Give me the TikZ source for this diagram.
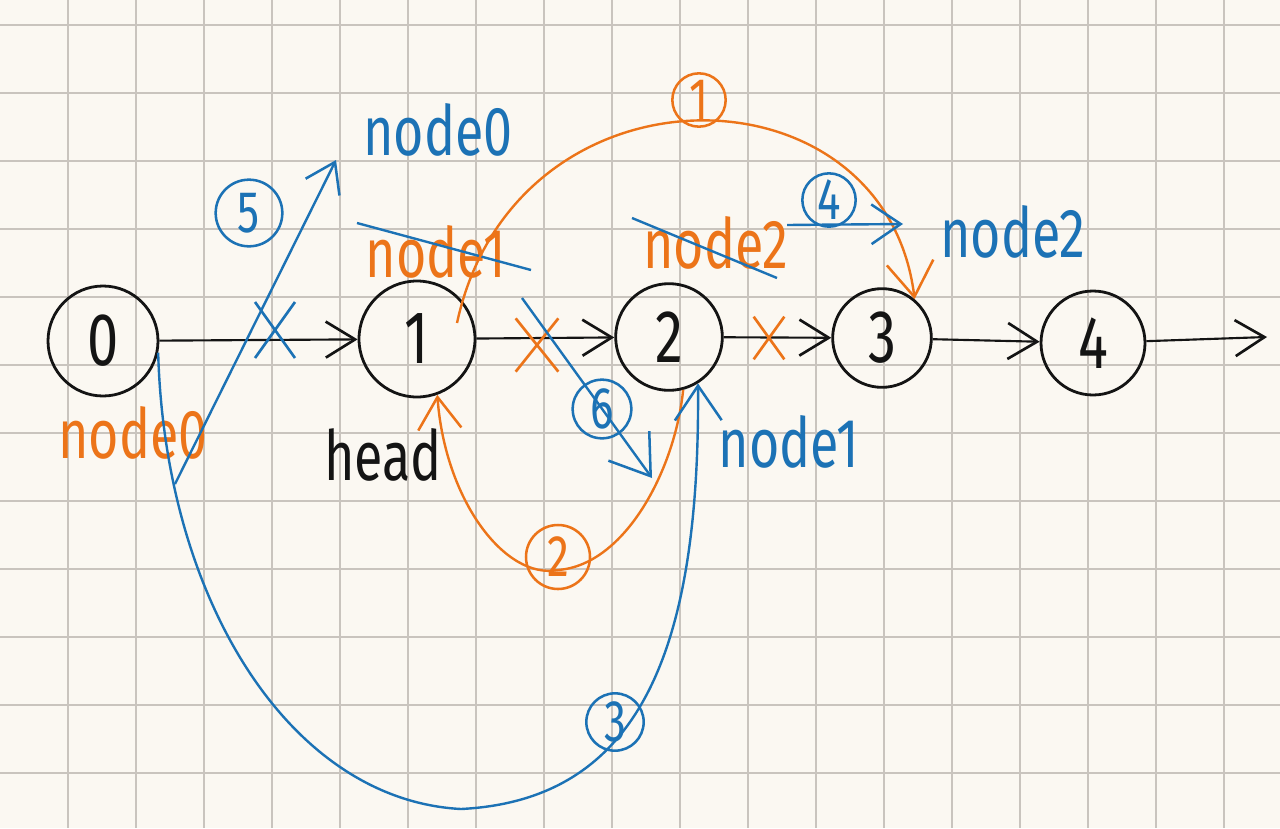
\documentclass[tikz,border=0pt]{standalone}
\usepackage{fontspec}
\setmainfont{Fira Sans}[FakeStretch=0.75]
\usetikzlibrary{arrows.meta,shapes.misc}
\definecolor{paper}{HTML}{FBF8F2}
\definecolor{gridc}{HTML}{C9C4BE}
\definecolor{pblue}{HTML}{1C72B5}
\definecolor{porange}{HTML}{EC7419}
\definecolor{ink}{HTML}{141414}
\begin{document}
\begin{tikzpicture}[x=0.75pt,y=-0.75pt,
  gridline/.style={draw=gridc,line width=0.9pt},
  lnode/.style={circle,draw=ink,line width=2.1pt,inner sep=0pt,text=ink,font=\fontsize{56}{56}\selectfont},
  link/.style={draw=ink,line width=1.6pt,-{Straight Barb[length=22pt,width=27pt,line width=2pt]}},
  lab/.style={inner sep=0pt,anchor=base,font=\fontsize{52}{52}\selectfont},
  circ/.style={circle,draw,line width=1.9pt,inner sep=0pt,font=\fontsize{44}{44}\selectfont},
  bline/.style={draw=pblue,line width=1.8pt},
  oline/.style={draw=porange,line width=1.8pt},
  xmark/.style={cross out,draw,line width=2pt,inner sep=0pt},
  tipS/.style={-{Straight Barb[length=#1,width=1.35*#1,line width=1.9pt]}}
]
% background and grid
\fill[paper] (0,0) rectangle (1280,828);
\useasboundingbox (0,0) rectangle (1280,828);
\foreach \i in {1,...,18} \draw[gridline] (68*\i,0) -- (68*\i,828);
\foreach \j in {0,...,11} \draw[gridline] (0,25+68*\j) -- (1280,25+68*\j);

% list nodes
\node[lnode,minimum size=82.5pt] (n0) at (103,341) {0};
\node[lnode,minimum size=87pt]   (n1) at (417,339) {1};
\node[lnode,minimum size=80pt]   (n2) at (669,337) {2};
\node[lnode,minimum size=74pt]   (n3) at (882,338) {3};
\node[lnode,minimum size=78pt]   (n4) at (1093,343) {4};
\coordinate (tail) at (1267,337);

\draw[link] (n0) -- (n1);
\draw[link] (n1) -- (n2);
\draw[link] (n2) -- (n3);
\draw[link] (n3) -- (n4);
\draw[link] (n4) -- (tail);

% crosses on links
\node[xmark,draw=pblue,minimum width=28pt,minimum height=40pt] (x01) at (275,330) {};
\node[xmark,draw=porange,minimum width=30pt,minimum height=38pt] (x12) at (537,345) {};
\node[xmark,draw=porange,minimum width=21pt,minimum height=30pt] (x23) at (769,338) {};

% labels
\node[lab,text=pblue]   (lb0) at (438,155) {node0};
\node[lab,text=porange] (lo1) at (436,277) {node1};
\node[lab,text=porange] (lo0) at (133,458) {node0};
\node[lab,text=ink]     (lh)  at (383,480) {head};
\node[lab,text=porange] (lo2) at (716,268) {node2};
\node[lab,text=pblue]   (lb2) at (1013,257) {node2};
\node[lab,text=pblue]   (lb1) at (789,467) {node1};

% strike-throughs
\coordinate (s1a) at (357,223); \coordinate (s1b) at (531,270);
\coordinate (s2a) at (632,218); \coordinate (s2b) at (777,278);
\draw[bline] (s1a) -- (s1b);
\draw[bline] (s2a) -- (s2b);

% step markers
\node[circ,draw=porange,text=porange,minimum size=40pt] (c1) at (699,100) {1};
\node[circ,draw=porange,text=porange,minimum size=48pt] (c2) at (558,557) {2};
\node[circ,draw=pblue,text=pblue,minimum size=43pt] (c3) at (615,722) {3};
\node[circ,draw=pblue,text=pblue,minimum size=40pt] (c4) at (829,200) {4};
\node[circ,draw=pblue,text=pblue,minimum size=50pt] (c5) at (249,213) {5};
\node[circ,draw=pblue,text=pblue,minimum size=44pt] (c6) at (602,409) {6};

% step 1 (orange): node1 -> node3
\coordinate (o1s) at (457,323);
\draw[oline,tipS=26pt] (o1s) .. controls (515,55) and (885,60) .. (n3.50);
% step 2 (orange): node2 -> node1
\coordinate (o2m) at (558,570);
\draw[oline,tipS=24pt] (n2.-75) .. controls (675,470) and (625,565) .. (o2m)
      .. controls (505,580) and (445,500) .. (n1.-70);
% step 3 (blue): node0 -> node2
\coordinate (b3m) at (461,809);
\draw[bline,tipS=26pt] (n0.-12) .. controls (165,600) and (290,800) .. (b3m)
      .. controls (640,800) and (700,650) .. (n2.-58);
% step 4 (blue)
\coordinate (b4s) at (787,225); \coordinate (b4e) at (903,224);
\draw[bline,tipS=22pt] (b4s) -- (b4e);
% step 5 (blue)
\coordinate (b5s) at (175,484); \coordinate (b5e) at (336,160);
\draw[bline,tipS=21pt] (b5s) -- (b5e);
% step 6 (blue)
\coordinate (b6s) at (522,298); \coordinate (b6e) at (652,478);
\draw[bline,tipS=28pt] (b6s) -- (b6e);
\end{tikzpicture}
\end{document}
